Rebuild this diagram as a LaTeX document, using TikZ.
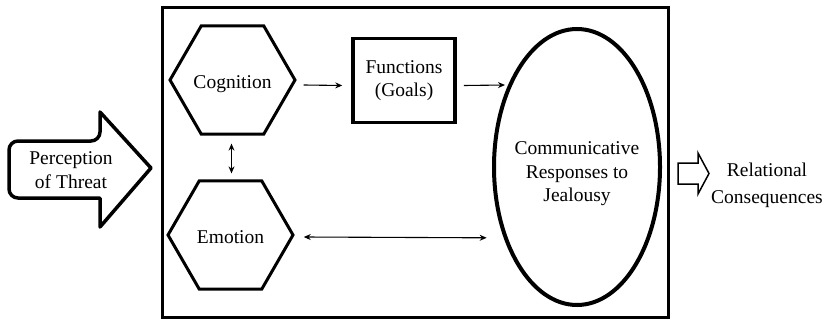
\documentclass[tikz,border=0pt]{standalone}
\usepackage{fontspec}
\setmainfont{Liberation Serif}
\newfontfamily\modelface{Liberation Serif}
\usetikzlibrary{shapes.geometric,arrows.meta,calc}
\begin{document}
\begin{tikzpicture}[x=1pt,y=-1pt,
  every node/.style={font=\modelface\fontsize{19.5}{23.5}\selectfont, inner sep=0pt, align=center},
  hexa/.style={draw, line width=3pt, regular polygon, regular polygon sides=6, minimum size=125pt},
  goalbox/.style={draw, line width=3.5pt, minimum width=102pt, minimum height=84pt},
  outcome/.style={draw, ellipse, line width=4pt, minimum width=166pt, minimum height=276pt},
  link/.style={line width=1.1pt, -{Stealth[length=7pt,width=6pt]}},
  duallink/.style={line width=1.1pt, {Stealth[length=7pt,width=6pt]}-{Stealth[length=7pt,width=6pt]}}
]
\useasboundingbox (0,0) rectangle (826,321);

% framing box of the model
\draw[line width=3pt] (162,8) rectangle (668,317);

% inner elements
\node[hexa] (cog) at (232.5,80) {};
\node (cogtext) at ($(cog.center)+(0,4)$) {Cognition};
\node[hexa] (emo) at (230.5,235) {};
\node (emotext) at ($(emo.center)+(0,2)$) {Emotion};
\node[goalbox] (fun) at (404,80.5) {Functions\\(Goals)};
\node[outcome] (resp) at (577,167) {};
\node (resptext) at ($(resp.center)+(0,7)$) {Communicative\\Responses to\\Jealousy};
\coordinate (goalend) at ($(resp.center)+(-72,-82)$);

% connectors
\draw[link] ([shift={(7,5)}]cog.east) -- ([shift={(-9,5)}]fun.west);
\draw[link] ([shift={(7,5)}]fun.east) -- (goalend);
\draw[duallink] ([shift={(-1,8)}]cog.south) -- ([shift={(1,-6)}]emo.north);
\draw[duallink] ([shift={(9,2)}]emo.east) -- ([shift={(-17,0)}]resp.224);

% input arrow
\draw[line width=3.5pt, line join=round]
  (100,141) -- (100,112) -- (151,168) -- (100,227) -- (100,198)
  [rounded corners=9pt] -- (9,198) -- (9,141) -- cycle;
\node (threat) at (71,170) {Perception\\of Threat};

% output arrow
\draw[line width=1.5pt, line join=miter]
  (698,163) -- (698,153) -- (709,173.5) -- (698,194) -- (698,184)
  -- (678,184) -- (678,163) -- cycle;
\node[font=\modelface\fontsize{19.5}{27}\selectfont] (cons) at (767,185) {Relational\\Consequences};
\end{tikzpicture}
\end{document}
